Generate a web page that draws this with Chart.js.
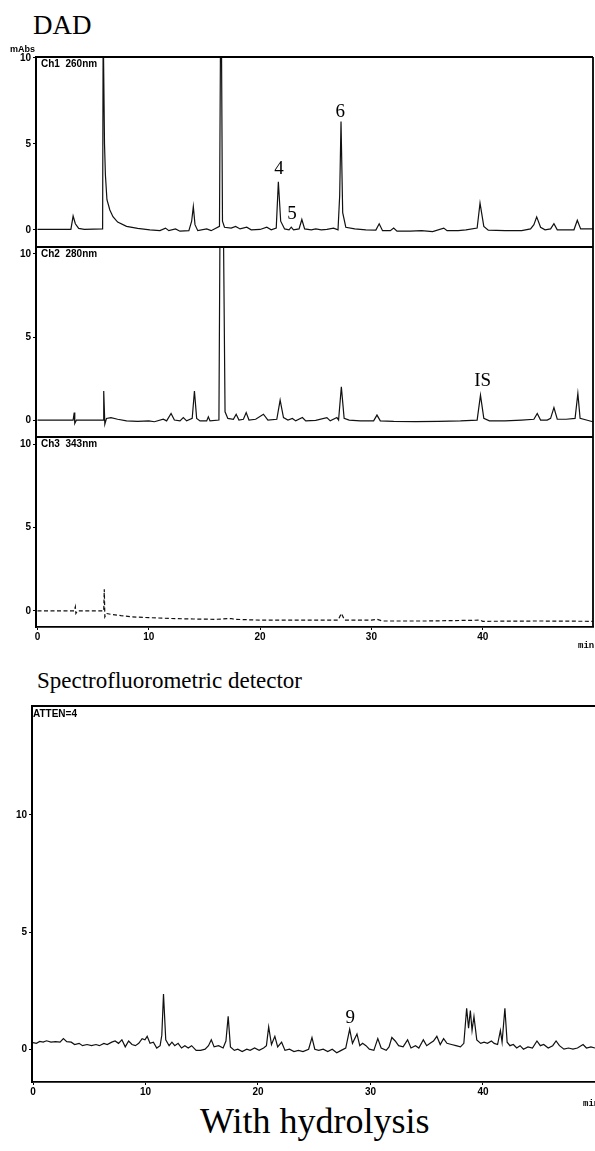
<!DOCTYPE html>
<html>
<head>
<meta charset="utf-8">
<script src="https://cdn.jsdelivr.net/npm/chart.js@4.4.1/dist/chart.umd.min.js"></script>
<style>
  html, body { margin: 0; padding: 0; background: #fff; }
  body { position: relative; width: 595px; height: 1151px; overflow: hidden; }
  canvas { position: absolute; left: 0; }
  .ttl { position: absolute; font-family: "Liberation Serif", "Times New Roman", serif; color: #000; white-space: nowrap; line-height: 1; }
</style>
</head>
<body>
<div class="ttl" style="left:33px;top:12px;font-size:27px">DAD</div>
<div class="ttl" style="left:37px;top:669px;font-size:23px">Spectrofluorometric detector</div>
<div class="ttl" style="left:200px;top:1103px;font-size:36px">With hydrolysis</div>

<canvas id="ch1" width="595" height="217" style="top:40px"></canvas>
<canvas id="ch2" width="595" height="210" style="top:237px"></canvas>
<canvas id="ch3" width="595" height="235" style="top:427px"></canvas>
<canvas id="fl" width="595" height="421" style="top:696px"></canvas>

<script>
// retention time (min) and detector response
var ch1Time = [0, 3.0, 3.2, 3.4, 3.7, 4.2, 5.85, 5.9, 5.97, 6.02, 6.1, 6.24, 6.5, 6.78, 7.2, 8.0, 9.0, 10.1, 11.0, 11.5, 11.8, 12.4, 12.8, 13.6, 13.85, 14.0, 14.15, 14.4, 15.2, 15.6, 16.35, 16.45, 16.52, 16.62, 16.8, 17.4, 17.8, 18.2, 18.8, 19.2, 20.0, 20.6, 21.0, 21.45, 21.64, 21.85, 22.2, 22.6, 22.8, 23.0, 23.5, 23.75, 24.0, 24.6, 25.0, 25.5, 26.0, 26.6, 27.0, 27.15, 27.27, 27.42, 27.7, 28.5, 29.5, 30.4, 30.7, 31.0, 31.7, 32.0, 32.3, 33.5, 34.5, 35.5, 36.5, 36.8, 37.8, 38.5, 39.5, 39.76, 40.1, 40.5, 42.0, 43.5, 44.3, 44.6, 44.85, 45.2, 45.6, 46.1, 46.4, 46.7, 47.5, 48.2, 48.5, 48.8, 49.9];
var ch1Abs = [0.02, 0.02, 0.8, 0.35, 0.08, 0.03, 0.05, 12, 12, 5.0, 3.2, 1.75, 1.15, 0.76, 0.45, 0.2, 0.08, 0.0, -0.05, 0.1, -0.05, 0.05, -0.08, -0.05, 0.5, 1.35, 0.3, -0.05, 0.05, -0.05, 0.2, 12, 12, 0.5, 0.15, 0.1, 0.2, 0.05, 0.15, 0.0, 0.02, 0.15, 0.0, 0.1, 2.8, 0.5, 0.05, 0.0, 0.15, 0.0, 0.05, 0.6, 0.05, 0.0, 0.05, 0.0, 0.02, 0.1, 0.0, 2.0, 6.3, 1.0, 0.15, 0.05, 0.0, -0.02, 0.35, -0.05, -0.05, 0.1, -0.08, -0.08, -0.05, -0.1, 0.1, -0.05, -0.05, 0.0, 0.1, 1.55, 0.2, -0.02, -0.05, -0.05, 0.05, 0.3, 0.75, 0.15, 0.0, 0.05, 0.35, 0.0, 0.0, 0.0, 0.55, 0.05, 0.05];

var ch2Time = [0, 3.2, 3.3, 3.35, 3.5, 5.9, 5.95, 6.05, 6.2, 6.6, 7.2, 8.0, 9.0, 10.0, 10.5, 11.3, 11.6, 12.0, 12.3, 12.8, 13.1, 13.4, 13.9, 14.1, 14.3, 14.6, 15.2, 15.35, 15.5, 16.3, 16.4, 16.7, 16.85, 17.1, 17.6, 17.85, 18.1, 18.5, 18.75, 19.0, 19.6, 20.3, 20.7, 21.5, 21.8, 22.1, 22.5, 22.9, 23.2, 23.8, 24.1, 25.0, 26.0, 26.3, 26.9, 27.05, 27.3, 27.55, 28.0, 29.0, 30.2, 30.5, 30.8, 32.0, 34.0, 36.0, 38.0, 39.5, 39.8, 40.1, 40.6, 42.0, 43.5, 44.6, 44.9, 45.2, 45.8, 46.1, 46.4, 46.7, 47.5, 48.3, 48.55, 48.75, 49.9];
var ch2Abs = [0.0, 0.0, 0.45, -0.2, 0.0, 0.0, 1.75, -0.25, 0.1, 0.15, 0.05, -0.05, -0.08, -0.05, -0.1, 0.05, -0.05, 0.4, 0.0, -0.05, 0.15, -0.05, 0.1, 1.75, 0.1, -0.05, -0.05, 0.2, -0.05, 0.0, 12, 12, 0.5, 0.1, 0.05, 0.35, 0.0, 0.05, 0.45, 0.0, 0.05, 0.35, 0.0, 0.05, 1.2, 0.15, 0.0, 0.1, -0.05, 0.15, -0.05, -0.02, 0.15, -0.05, 0.15, 0.0, 2.0, 0.1, 0.0, -0.05, -0.05, 0.3, -0.05, -0.08, -0.1, -0.08, -0.05, 0.0, 1.5, 0.1, -0.05, -0.05, 0.0, 0.05, 0.4, 0.0, 0.0, 0.1, 0.75, 0.05, 0.05, 0.1, 1.6, 0.1, -0.1];

var ch3Time = [0, 3.3, 3.4, 3.45, 3.6, 5.95, 6.0, 6.05, 6.2, 6.6, 7.5, 8.5, 10.0, 12.0, 14.0, 16.0, 17.4, 17.7, 20.0, 22.0, 24.0, 27.0, 27.3, 27.6, 30.0, 30.5, 31.0, 35.0, 39.8, 40.0, 45.0, 49.9];
var ch3Abs = [0.0, 0.0, 0.25, -0.15, 0.0, 0.0, 1.3, -0.35, -0.15, -0.2, -0.28, -0.35, -0.4, -0.45, -0.48, -0.5, -0.45, -0.5, -0.55, -0.55, -0.55, -0.55, -0.15, -0.55, -0.55, -0.5, -0.6, -0.6, -0.55, -0.62, -0.6, -0.62];

var flTime = [0.0, 0.3, 0.6, 0.9, 1.2, 1.6, 2.0, 2.4, 2.7, 3.0, 3.4, 3.7, 4.1, 4.4, 4.8, 5.2, 5.6, 5.9, 6.3, 6.6, 7.0, 7.3, 7.6, 7.9, 8.2, 8.5, 8.8, 9.1, 9.4, 9.7, 9.95, 10.15, 10.4, 10.7, 11.0, 11.3, 11.45, 11.6, 11.8, 12.1, 12.35, 12.6, 12.9, 13.2, 13.5, 13.8, 14.1, 14.5, 14.9, 15.3, 15.6, 15.85, 16.1, 16.5, 16.9, 17.15, 17.35, 17.55, 17.9, 18.2, 18.6, 19.0, 19.3, 19.7, 20.1, 20.5, 20.75, 20.95, 21.2, 21.5, 21.75, 22.1, 22.4, 22.8, 23.2, 23.6, 24.0, 24.5, 24.8, 25.05, 25.4, 25.8, 26.2, 26.6, 27.0, 27.4, 27.8, 28.15, 28.4, 28.8, 29.05, 29.3, 29.6, 29.9, 30.3, 30.65, 30.95, 31.4, 31.65, 31.9, 32.2, 32.5, 32.9, 33.3, 33.6, 34.0, 34.3, 34.7, 35.0, 35.3, 35.6, 35.9, 36.2, 36.5, 36.8, 37.2, 37.6, 38.0, 38.3, 38.55, 38.72, 38.88, 39.03, 39.2, 39.45, 39.8, 40.1, 40.4, 40.75, 41.0, 41.3, 41.55, 41.7, 41.95, 42.15, 42.4, 42.7, 43.0, 43.3, 43.6, 44.0, 44.4, 44.8, 45.1, 45.4, 45.8, 46.2, 46.5, 46.8, 47.2, 47.6, 48.0, 48.4, 48.9, 49.2, 49.6, 49.96];
var flSignal = [0.28, 0.25, 0.33, 0.3, 0.36, 0.3, 0.32, 0.3, 0.45, 0.32, 0.3, 0.2, 0.25, 0.15, 0.2, 0.15, 0.2, 0.15, 0.25, 0.2, 0.3, 0.35, 0.25, 0.4, 0.1, 0.35, 0.2, 0.15, 0.25, 0.45, 0.4, 0.55, 0.25, 0.3, 0.05, 0.15, 0.6, 2.35, 0.4, 0.15, 0.3, 0.15, 0.25, 0.05, 0.15, 0.05, 0.15, -0.05, -0.05, 0.0, 0.15, 0.4, 0.1, 0.15, 0.05, 0.35, 1.4, 0.1, -0.05, 0.0, -0.1, 0.0, -0.05, 0.05, -0.05, 0.05, 0.15, 0.95, 0.2, 0.55, 0.1, 0.3, -0.05, 0.0, -0.1, -0.05, -0.1, 0.0, 0.5, 0.0, -0.05, 0.0, -0.1, 0.0, -0.15, -0.05, 0.05, 0.85, 0.25, 0.65, 0.15, 0.25, 0.15, 0.0, -0.05, 0.45, 0.05, -0.05, 0.1, 0.5, 0.35, 0.15, 0.1, 0.4, 0.05, 0.15, 0.05, 0.4, 0.15, 0.25, 0.35, 0.55, 0.2, 0.45, 0.25, 0.2, 0.15, 0.1, 0.25, 1.75, 0.9, 1.65, 0.8, 1.4, 0.4, 0.25, 0.3, 0.25, 0.35, 0.25, 0.2, 0.8, 0.3, 1.75, 0.3, 0.15, 0.2, 0.05, 0.15, 0.0, 0.1, 0.05, 0.35, 0.15, 0.2, 0.05, 0.15, 0.35, 0.15, 0.0, 0.05, 0.0, 0.05, 0.2, 0.05, 0.1, 0.05];

var xTicks = [0, 10, 20, 30, 40];
var yTicks = [0, 5, 10];

// peak labels
var ch1PeakNames = ['4', '5', '6'];
var ch1PeakTime = [21.7, 22.87, 27.2];
var ch1PeakLevel = [3.55, 0.93, 6.86];
var ch2PeakNames = ['IS'];
var ch2PeakTime = [40.0];
var ch2PeakLevel = [2.35];
var flPeakNames = ['9'];
var flPeakTime = [28.2];
var flPeakLevel = [1.32];

var tickFont = { family: '"Liberation Sans", Arial, sans-serif', size: 10, weight: 'bold' };

function toPoints(xs, ys) {
  var pts = [];
  for (var i = 0; i < xs.length; i++) pts.push({ x: xs[i], y: ys[i] });
  return pts;
}

var panelDecor = {
  id: 'panelDecor',
  afterDatasetsDraw: function (chart, args, opts) {
    var ctx = chart.ctx, a = chart.chartArea;
    ctx.save();
    ctx.strokeStyle = '#000';
    ctx.lineWidth = 1.8;
    ctx.beginPath();
    ctx.moveTo(a.left, a.top);
    ctx.lineTo(a.right, a.top);
    if (opts.right) {
      ctx.moveTo(a.right, a.top);
      ctx.lineTo(a.right, a.bottom);
    }
    ctx.stroke();

    ctx.fillStyle = '#000';
    ctx.textBaseline = 'middle';
    ctx.textAlign = 'left';
    if (opts.tag) {
      ctx.font = 'bold 10px "Liberation Sans Narrow", "Liberation Sans", Arial, sans-serif';
      ctx.fillText(opts.tag, a.left + opts.tagDx, a.top + opts.tagDy);
    }
    if (opts.unit) {
      ctx.font = 'bold 9px "Liberation Sans Narrow", "Liberation Sans", Arial, sans-serif';
      ctx.fillText(opts.unit, 10, a.top - 7);
    }
    if (opts.minText) {
      ctx.font = 'bold 9px "Liberation Mono", monospace';
      ctx.fillText('min', opts.minX, a.bottom + opts.minDy);
    }
    if (opts.names) {
      var xs = chart.scales.x, ys = chart.scales.y;
      ctx.font = '19px "Liberation Serif", "Times New Roman", serif';
      ctx.textAlign = 'center';
      for (var i = 0; i < opts.names.length; i++) {
        ctx.fillText(opts.names[i], xs.getPixelForValue(opts.times[i]), ys.getPixelForValue(opts.levels[i]));
      }
    }
    ctx.restore();
  }
};

function makePanel(id, cfg) {
  var yAxis = {
    type: 'linear',
    min: cfg.yMin,
    max: cfg.yMax,
    grid: { drawOnChartArea: false, drawTicks: true, tickLength: 3, tickColor: '#000' },
    border: { display: true, color: '#000', width: 2 },
    ticks: { color: '#000', font: tickFont, padding: 2, callback: function (v) { return v; } },
    afterBuildTicks: function (s) { s.ticks = yTicks.map(function (v) { return { value: v }; }); },
    afterFit: function (s) { s.width = cfg.axisWidth; s.paddingTop = 0; s.paddingBottom = 0; }
  };
  var xAxis = {
    type: 'linear',
    min: cfg.xMin,
    max: cfg.xMax,
    display: cfg.showX,
    grid: { drawOnChartArea: false, drawTicks: true, tickLength: 3, tickColor: '#000' },
    border: { display: true, color: '#000', width: 1.8 },
    ticks: { color: '#000', font: tickFont, padding: 1, maxRotation: 0, callback: function (v) { return v; } },
    afterBuildTicks: function (s) { s.ticks = xTicks.map(function (v) { return { value: v }; }); },
    afterFit: function (s) { s.height = cfg.showX ? 30 : 0; s.paddingLeft = 0; s.paddingRight = 0; }
  };
  return new Chart(document.getElementById(id), {
    type: 'line',
    data: {
      datasets: [{
        data: toPoints(cfg.xs, cfg.ys),
        borderColor: '#111',
        borderWidth: 1.2,
        borderDash: cfg.dash || [],
        pointRadius: 0,
        tension: 0,
        fill: false,
        clip: 0
      }]
    },
    options: {
      responsive: false,
      animation: false,
      devicePixelRatio: 1,
      layout: { padding: cfg.pad },
      plugins: {
        legend: { display: false },
        tooltip: { enabled: false },
        panelDecor: cfg.decor
      },
      scales: { x: xAxis, y: yAxis }
    },
    plugins: [panelDecor]
  });
}

makePanel('ch1', {
  xs: ch1Time, ys: ch1Abs,
  xMin: -0.135, xMax: 49.91, yMin: -1, yMax: 10.05, showX: false, axisWidth: 36,
  pad: { top: 17, bottom: 10, left: 0, right: 2 },
  decor: { right: true, tag: 'Ch1  260nm', tagDx: 5, tagDy: 7, unit: 'mAbs',
           names: ch1PeakNames, times: ch1PeakTime, levels: ch1PeakLevel }
});

makePanel('ch2', {
  xs: ch2Time, ys: ch2Abs,
  xMin: -0.135, xMax: 49.91, yMin: -1.02, yMax: 10.42, showX: false, axisWidth: 36,
  pad: { top: 10, bottom: 10, left: 0, right: 2 },
  decor: { right: true, tag: 'Ch2  280nm', tagDx: 5, tagDy: 7,
           names: ch2PeakNames, times: ch2PeakTime, levels: ch2PeakLevel }
});

makePanel('ch3', {
  xs: ch3Time, ys: ch3Abs, dash: [4, 2.5],
  xMin: -0.135, xMax: 49.91, yMin: -0.96, yMax: 10.42, showX: true, axisWidth: 36,
  pad: { top: 10, bottom: 5, left: 0, right: 2 },
  decor: { right: true, tag: 'Ch3  343nm', tagDx: 5, tagDy: 7, minText: true, minX: 578, minDy: 19 }
});

makePanel('fl', {
  xs: flTime, ys: flSignal,
  xMin: -0.09, xMax: 49.96, yMin: -1.4, yMax: 14.65, showX: true, axisWidth: 32,
  pad: { top: 10, bottom: 5, left: 0, right: 0 },
  decor: { right: false, tag: 'ATTEN=4', tagDx: 1, tagDy: 8, minText: true, minX: 583, minDy: 22,
           names: flPeakNames, times: flPeakTime, levels: flPeakLevel }
});
</script>
</body>
</html>
